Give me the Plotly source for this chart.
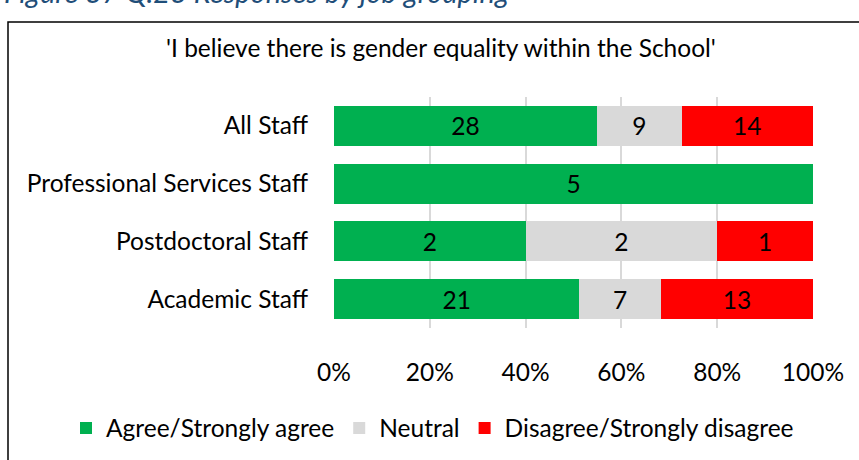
import plotly.graph_objects as go

categories = ["All Staff", "Professional Services Staff", "Postdoctoral Staff", "Academic Staff"]
agree = [28, 5, 2, 21]
neutral = [9, 0, 2, 7]
disagree = [14, 0, 1, 13]
series_names = ["Agree/Strongly agree", "Neutral", "Disagree/Strongly disagree"]
series_colors = ["#00B050", "#D9D9D9", "#FF0000"]
tick_vals = [0, 20, 40, 60, 80, 100]
tick_text = ["0%", "20%", "40%", "60%", "80%", "100%"]
title_text = "'I believe there is gender equality within the School'"
caption_text = "Figure 37 Q.23 Responses by job grouping"

FONT = "Lato"
FS = 24.5

W, H = 859, 460
L, R, T, B = 334, 46, 97, 132
pw, ph = W - L - R, H - T - B


def px_x(x):
    return (x - L) / pw


def px_y(y):
    return (H - B - y) / ph


fig = go.Figure()
for name, vals, col in zip(series_names, [agree, neutral, disagree], series_colors):
    fig.add_trace(go.Bar(
        y=categories, x=vals, name=name, orientation="h",
        marker=dict(color=col, line=dict(width=0)),
        text=[str(v) if v else "" for v in vals],
        textposition="inside", insidetextanchor="middle",
        textfont=dict(family=FONT, size=FS, color="#000000"),
        hoverinfo="x+y+name",
    ))

fig.update_layout(
    width=W, height=H,
    barmode="stack", barnorm="percent", bargap=0.31,
    margin=dict(l=L, r=R, t=T, b=B, autoexpand=False),
    paper_bgcolor="white", plot_bgcolor="white",
    font=dict(family=FONT, size=FS, color="#000000"),
    uniformtext=dict(mode="show", minsize=10),
    showlegend=True,
    legend=dict(orientation="h", x=px_x(66), y=px_y(428), xanchor="left", yanchor="middle",
                font=dict(family=FONT, size=FS, color="#000000"), traceorder="normal",
                itemwidth=30, itemclick=False, bgcolor="rgba(0,0,0,0)"),
    xaxis=dict(range=[0, 100], tickvals=tick_vals, ticktext=tick_text,
               showgrid=True, gridcolor="#D9D9D9", gridwidth=1.5, zeroline=False,
               showline=False, ticks="", ticklabelstandoff=27,
               tickfont=dict(family=FONT, size=FS, color="#000000")),
    yaxis=dict(autorange="reversed", showgrid=False, showline=False, ticks="",
               ticklabelstandoff=25,
               tickfont=dict(family=FONT, size=FS, color="#000000")),
    shapes=[dict(type="rect", xref="paper", yref="paper",
                 x0=px_x(8), x1=px_x(870), y0=px_y(470), y1=px_y(22),
                 line=dict(color="#000000", width=1.5), fillcolor="rgba(0,0,0,0)", layer="below")],
    annotations=[
        dict(text=title_text, xref="paper", yref="paper", x=px_x(441), y=px_y(47),
             xanchor="center", yanchor="middle", showarrow=False,
             font=dict(family=FONT, size=FS, color="#000000")),
        dict(text="<i>" + caption_text + "</i>", xref="paper", yref="paper", x=px_x(2), y=px_y(11),
             xanchor="left", yanchor="bottom", showarrow=False,
             font=dict(family=FONT, size=29, color="#1F4E79")),
    ],
)

fig.write_html("out.html", config={"displayModeBar": False},
               post_script="document.body.style.margin='0';")
